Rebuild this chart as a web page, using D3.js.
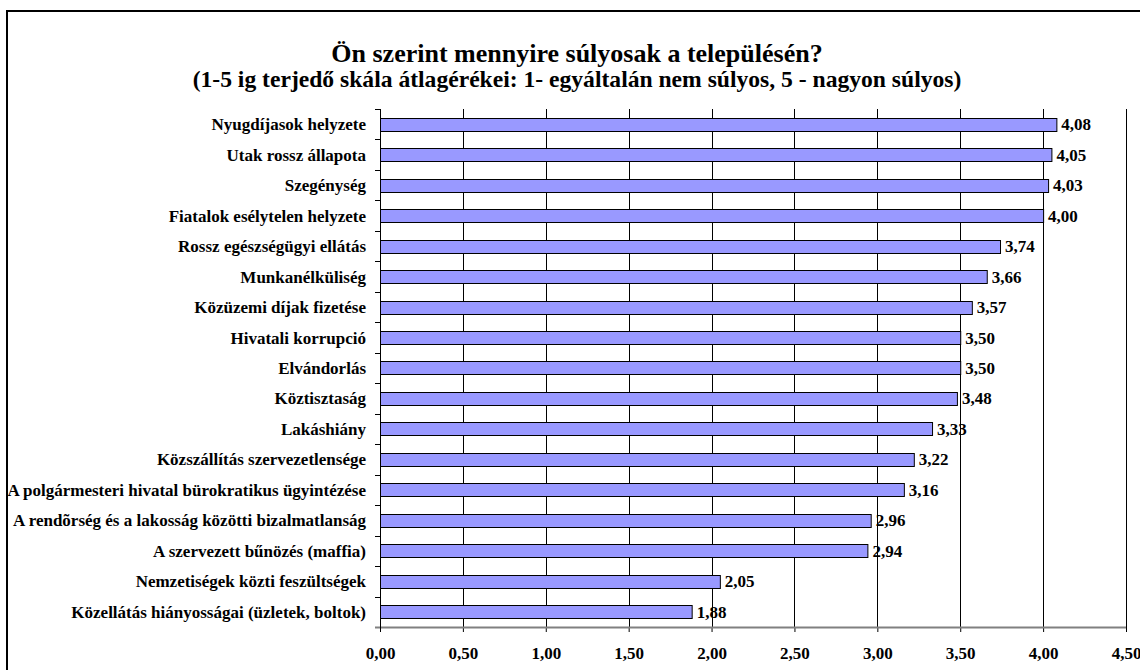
<!DOCTYPE html>
<html>
<head>
<meta charset="utf-8">
<script src="https://cdn.jsdelivr.net/npm/d3@7"></script>
<style>
  body { margin: 0; background: #fff; }
  svg text { font-family: "Liberation Serif", "Times New Roman", serif; font-weight: bold; fill: #000; }
</style>
</head>
<body>
<script>
// chart data
var categories = [
    "Nyugdíjasok helyzete",
    "Utak rossz állapota",
    "Szegénység",
    "Fiatalok esélytelen helyzete",
    "Rossz egészségügyi ellátás",
    "Munkanélküliség",
    "Közüzemi díjak fizetése",
    "Hivatali korrupció",
    "Elvándorlás",
    "Köztisztaság",
    "Lakáshiány",
    "Közszállítás szervezetlensége",
    "A polgármesteri hivatal bürokratikus ügyintézése",
    "A rendõrség és a lakosság közötti bizalmatlanság",
    "A szervezett bűnözés (maffia)",
    "Nemzetiségek közti feszültségek",
    "Közellátás hiányosságai (üzletek, boltok)"
];
var values = [4.08, 4.05, 4.03, 4.00, 3.74, 3.66, 3.57, 3.50, 3.50, 3.48, 3.33, 3.22, 3.16, 2.96, 2.94, 2.05, 1.88];
var xTicks = [0, 0.5, 1, 1.5, 2, 2.5, 3, 3.5, 4, 4.5];
var title = "Ön szerint mennyire súlyosak a településén?";
var subtitle = "(1-5 ig terjedő skála átlagérékei: 1- egyáltalán nem súlyos, 5 - nagyon súlyos)";

var width = 1140,
    height = 670;

var margin = {top: 109, left: 380, right: 14, bottom: 43};
var serif = "'Liberation Serif', 'Times New Roman', serif";

var huLocale = d3.formatLocale({decimal: ",", thousands: " ", grouping: [3], currency: ["", " Ft"]});
var fmt = huLocale.format(".2f");

var svg = d3.select("body").append("svg")
    .attr("width", width)
    .attr("height", height);

// outer frame (runs off the right and bottom edges)
svg.append("rect")
    .attr("x", 7)
    .attr("y", 11)
    .attr("width", width + 20)
    .attr("height", height + 20)
    .attr("fill", "none")
    .attr("stroke", "#000")
    .attr("stroke-width", 2);

var x = d3.scaleLinear()
    .domain([0, 4.5])
    .range([margin.left, width - margin.right]);

var y = d3.scaleBand()
    .domain(categories)
    .range([margin.top, height - margin.bottom])
    .paddingInner(0.57)
    .paddingOuter(0.285);

// titles
var cx = 577;
svg.append("text")
    .attr("x", cx)
    .attr("y", 62)
    .attr("text-anchor", "middle")
    .attr("font-family", serif)
    .style("font-size", "26px")
    .text(title);

svg.append("text")
    .attr("x", cx)
    .attr("y", 87)
    .attr("text-anchor", "middle")
    .attr("font-family", serif)
    .style("font-size", "23.6px")
    .text(subtitle);

// vertical gridlines
svg.append("g")
    .selectAll("line")
    .data(xTicks.filter(function(d) { return d > 0; }))
    .enter().append("line")
    .attr("x1", function(d) { return Math.round(x(d)) + 0.5; })
    .attr("x2", function(d) { return Math.round(x(d)) + 0.5; })
    .attr("y1", margin.top)
    .attr("y2", height - margin.bottom)
    .attr("stroke", "#000")
    .attr("stroke-width", 1);

// bars
svg.append("g")
    .selectAll("rect")
    .data(values)
    .enter().append("rect")
    .attr("x", x(0) + 0.5)
    .attr("y", function(d, i) { return Math.round(y(categories[i])) + 0.5; })
    .attr("width", function(d) { return x(d) - x(0); })
    .attr("height", Math.round(y.bandwidth()))
    .attr("fill", "#9999ff")
    .attr("stroke", "#000")
    .attr("stroke-width", 1);

// value labels
svg.append("g")
    .selectAll("text")
    .data(values)
    .enter().append("text")
    .attr("x", function(d) { return x(d) + 5; })
    .attr("y", function(d, i) { return y(categories[i]) + y.bandwidth() / 2 + 6; })
    .attr("font-family", serif)
    .style("font-size", "17px")
    .text(function(d) { return fmt(d); });

// x axis
var xAxis = svg.append("g")
    .attr("transform", "translate(0," + (height - margin.bottom) + ")")
    .call(d3.axisBottom(x).tickValues(xTicks).tickSize(5).tickSizeOuter(0).tickFormat(fmt).tickPadding(15));
xAxis.select(".domain").remove();
xAxis.selectAll(".tick line").attr("stroke", "#000");
xAxis.selectAll("text")
    .attr("font-family", serif)
    .attr("font-size", null)
    .style("font-size", "17px")
    .style("font-weight", "bold");
xAxis.append("line")
    .attr("x1", margin.left - 5)
    .attr("x2", width - margin.right)
    .attr("y1", 0.5)
    .attr("y2", 0.5)
    .attr("stroke", "#808080")
    .attr("stroke-width", 2);

// y axis: line with ticks at band boundaries
var yAxis = svg.append("g");
yAxis.append("line")
    .attr("x1", margin.left + 0.5)
    .attr("x2", margin.left + 0.5)
    .attr("y1", margin.top)
    .attr("y2", height - margin.bottom + 5)
    .attr("stroke", "#000");

var bounds = d3.range(categories.length).map(function(i) { return margin.top + i * y.step(); });
yAxis.selectAll(".ytick")
    .data(bounds)
    .enter().append("line")
    .attr("class", "ytick")
    .attr("x1", margin.left - 5)
    .attr("x2", margin.left)
    .attr("y1", function(d) { return Math.round(d) + 0.5; })
    .attr("y2", function(d) { return Math.round(d) + 0.5; })
    .attr("stroke", "#000");

// category labels
yAxis.selectAll(".ylabel")
    .data(categories)
    .enter().append("text")
    .attr("class", "ylabel")
    .attr("x", margin.left - 14)
    .attr("y", function(d) { return y(d) + y.bandwidth() / 2 + 6; })
    .attr("text-anchor", "end")
    .attr("font-family", serif)
    .style("font-size", "17px")
    .text(function(d) { return d; });
</script>
</body>
</html>
